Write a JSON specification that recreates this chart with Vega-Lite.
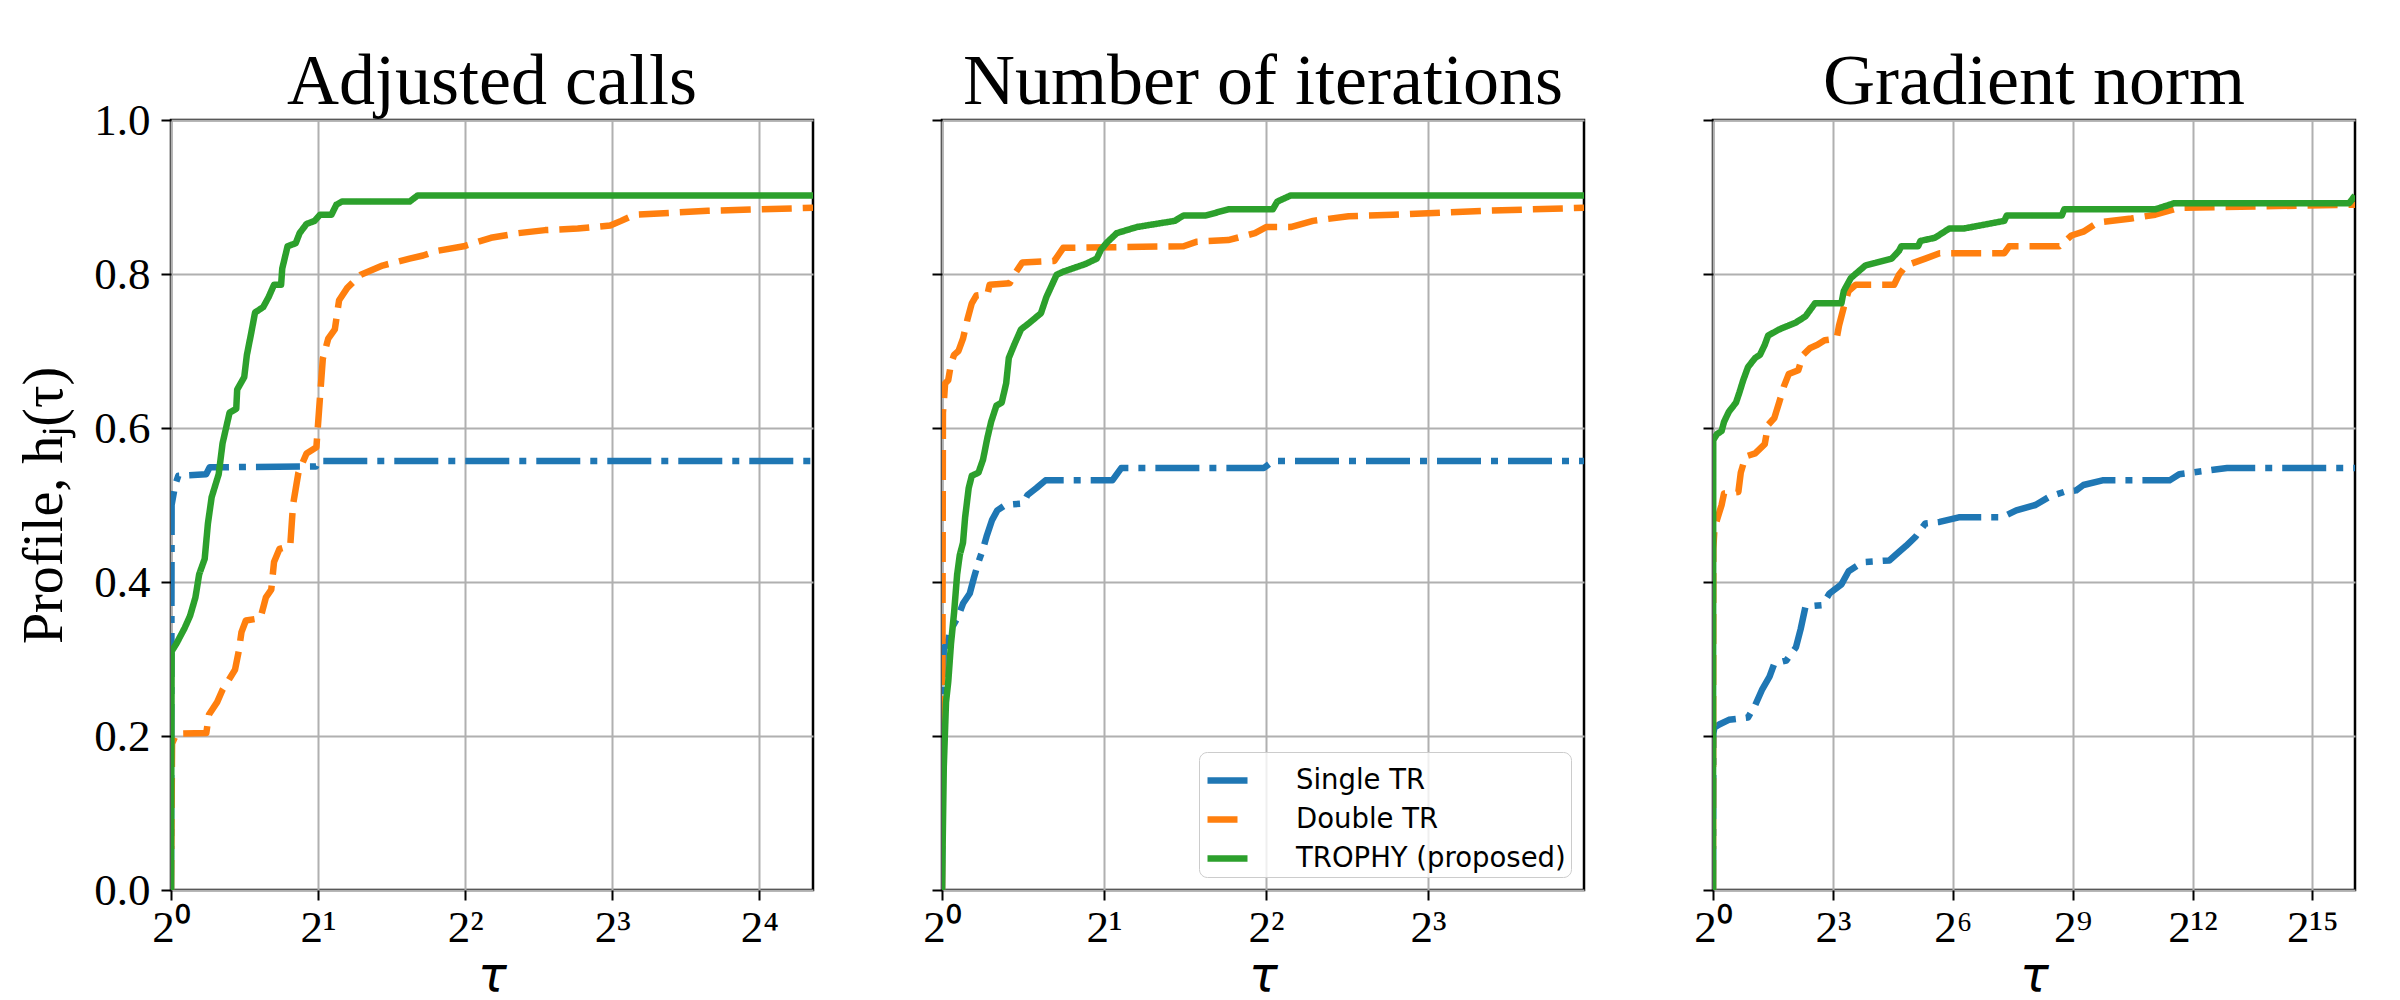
{
  "$schema": "https://vega.github.io/schema/vega-lite/v6.json",
  "background": "white",
  "padding": {"left": 15, "top": 44, "right": 10, "bottom": 0},
  "config": {
    "view": {"stroke": "black", "strokeWidth": 2.5},
    "font": "Liberation Serif",
    "axis": {
      "domain": false,
      "gridColor": "#b0b0b0",
      "gridWidth": 2,
      "gridOpacity": 1,
      "tickColor": "black",
      "tickWidth": 2,
      "tickSize": 10,
      "labelFont": "Liberation Serif",
      "labelFontSize": 45,
      "labelColor": "black",
      "titleColor": "black",
      "titleFontWeight": "normal"
    },
    "title": {"font": "Liberation Serif", "fontSize": 72, "fontWeight": "normal", "color": "black", "baseline": "alphabetic", "offset": -21, "frame": "group", "anchor": "middle"}
  },
  "datasets": {
    "calls": [
      {"solver": "Single TR", "tau": 1, "h": 0},
      {"solver": "Single TR", "tau": 1.003, "h": 0.5},
      {"solver": "Single TR", "tau": 1.02, "h": 0.526},
      {"solver": "Single TR", "tau": 1.035, "h": 0.538},
      {"solver": "Single TR", "tau": 1.18, "h": 0.54},
      {"solver": "Single TR", "tau": 1.2, "h": 0.549},
      {"solver": "Single TR", "tau": 1.98, "h": 0.55},
      {"solver": "Single TR", "tau": 2.0, "h": 0.557},
      {"solver": "Single TR", "tau": 20.6, "h": 0.557},
      {"solver": "Double TR", "tau": 1, "h": 0},
      {"solver": "Double TR", "tau": 1.005, "h": 0.19},
      {"solver": "Double TR", "tau": 1.026, "h": 0.203},
      {"solver": "Double TR", "tau": 1.181, "h": 0.204},
      {"solver": "Double TR", "tau": 1.196, "h": 0.228},
      {"solver": "Double TR", "tau": 1.243, "h": 0.244},
      {"solver": "Double TR", "tau": 1.275, "h": 0.26},
      {"solver": "Double TR", "tau": 1.325, "h": 0.277},
      {"solver": "Double TR", "tau": 1.352, "h": 0.286},
      {"solver": "Double TR", "tau": 1.376, "h": 0.31},
      {"solver": "Double TR", "tau": 1.394, "h": 0.335},
      {"solver": "Double TR", "tau": 1.423, "h": 0.35},
      {"solver": "Double TR", "tau": 1.524, "h": 0.353},
      {"solver": "Double TR", "tau": 1.564, "h": 0.38},
      {"solver": "Double TR", "tau": 1.604, "h": 0.39},
      {"solver": "Double TR", "tau": 1.625, "h": 0.426},
      {"solver": "Double TR", "tau": 1.667, "h": 0.443},
      {"solver": "Double TR", "tau": 1.754, "h": 0.447},
      {"solver": "Double TR", "tau": 1.777, "h": 0.5},
      {"solver": "Double TR", "tau": 1.823, "h": 0.542},
      {"solver": "Double TR", "tau": 1.894, "h": 0.567},
      {"solver": "Double TR", "tau": 1.984, "h": 0.575},
      {"solver": "Double TR", "tau": 2.019, "h": 0.642},
      {"solver": "Double TR", "tau": 2.045, "h": 0.69},
      {"solver": "Double TR", "tau": 2.098, "h": 0.716},
      {"solver": "Double TR", "tau": 2.164, "h": 0.728},
      {"solver": "Double TR", "tau": 2.208, "h": 0.766},
      {"solver": "Double TR", "tau": 2.295, "h": 0.782},
      {"solver": "Double TR", "tau": 2.446, "h": 0.799},
      {"solver": "Double TR", "tau": 2.709, "h": 0.811},
      {"solver": "Double TR", "tau": 3.078, "h": 0.82},
      {"solver": "Double TR", "tau": 3.281, "h": 0.824},
      {"solver": "Double TR", "tau": 3.497, "h": 0.83},
      {"solver": "Double TR", "tau": 3.974, "h": 0.836},
      {"solver": "Double TR", "tau": 4.516, "h": 0.847},
      {"solver": "Double TR", "tau": 5.131, "h": 0.853},
      {"solver": "Double TR", "tau": 5.831, "h": 0.857},
      {"solver": "Double TR", "tau": 6.798, "h": 0.859},
      {"solver": "Double TR", "tau": 7.923, "h": 0.863},
      {"solver": "Double TR", "tau": 8.34, "h": 0.869},
      {"solver": "Double TR", "tau": 8.89, "h": 0.877},
      {"solver": "Double TR", "tau": 12.55, "h": 0.882},
      {"solver": "Double TR", "tau": 20.6, "h": 0.886},
      {"solver": "TROPHY (proposed)", "tau": 1, "h": 0},
      {"solver": "TROPHY (proposed)", "tau": 1.003, "h": 0.31},
      {"solver": "TROPHY (proposed)", "tau": 1.026, "h": 0.32},
      {"solver": "TROPHY (proposed)", "tau": 1.066, "h": 0.34},
      {"solver": "TROPHY (proposed)", "tau": 1.094, "h": 0.356},
      {"solver": "TROPHY (proposed)", "tau": 1.122, "h": 0.38},
      {"solver": "TROPHY (proposed)", "tau": 1.142, "h": 0.41},
      {"solver": "TROPHY (proposed)", "tau": 1.172, "h": 0.43},
      {"solver": "TROPHY (proposed)", "tau": 1.19, "h": 0.476},
      {"solver": "TROPHY (proposed)", "tau": 1.211, "h": 0.51},
      {"solver": "TROPHY (proposed)", "tau": 1.252, "h": 0.54},
      {"solver": "TROPHY (proposed)", "tau": 1.275, "h": 0.58},
      {"solver": "TROPHY (proposed)", "tau": 1.318, "h": 0.62},
      {"solver": "TROPHY (proposed)", "tau": 1.36, "h": 0.625},
      {"solver": "TROPHY (proposed)", "tau": 1.366, "h": 0.65},
      {"solver": "TROPHY (proposed)", "tau": 1.412, "h": 0.666},
      {"solver": "TROPHY (proposed)", "tau": 1.43, "h": 0.695},
      {"solver": "TROPHY (proposed)", "tau": 1.46, "h": 0.724},
      {"solver": "TROPHY (proposed)", "tau": 1.486, "h": 0.75},
      {"solver": "TROPHY (proposed)", "tau": 1.544, "h": 0.757},
      {"solver": "TROPHY (proposed)", "tau": 1.584, "h": 0.77},
      {"solver": "TROPHY (proposed)", "tau": 1.625, "h": 0.786},
      {"solver": "TROPHY (proposed)", "tau": 1.68, "h": 0.786},
      {"solver": "TROPHY (proposed)", "tau": 1.689, "h": 0.807},
      {"solver": "TROPHY (proposed)", "tau": 1.732, "h": 0.836},
      {"solver": "TROPHY (proposed)", "tau": 1.8, "h": 0.84},
      {"solver": "TROPHY (proposed)", "tau": 1.833, "h": 0.853},
      {"solver": "TROPHY (proposed)", "tau": 1.894, "h": 0.865},
      {"solver": "TROPHY (proposed)", "tau": 1.968, "h": 0.869},
      {"solver": "TROPHY (proposed)", "tau": 2.019, "h": 0.877},
      {"solver": "TROPHY (proposed)", "tau": 2.13, "h": 0.877},
      {"solver": "TROPHY (proposed)", "tau": 2.18, "h": 0.89},
      {"solver": "TROPHY (proposed)", "tau": 2.237, "h": 0.894},
      {"solver": "TROPHY (proposed)", "tau": 3.078, "h": 0.894},
      {"solver": "TROPHY (proposed)", "tau": 3.198, "h": 0.902},
      {"solver": "TROPHY (proposed)", "tau": 20.6, "h": 0.902}
    ],
    "iters": [
      {"solver": "Single TR", "tau": 1, "h": 0},
      {"solver": "Single TR", "tau": 1.004, "h": 0.244},
      {"solver": "Single TR", "tau": 1.0077, "h": 0.315},
      {"solver": "Single TR", "tau": 1.023, "h": 0.318},
      {"solver": "Single TR", "tau": 1.033, "h": 0.335},
      {"solver": "Single TR", "tau": 1.073, "h": 0.356},
      {"solver": "Single TR", "tau": 1.094, "h": 0.372},
      {"solver": "Single TR", "tau": 1.126, "h": 0.385},
      {"solver": "Single TR", "tau": 1.147, "h": 0.406},
      {"solver": "Single TR", "tau": 1.169, "h": 0.426},
      {"solver": "Single TR", "tau": 1.192, "h": 0.443},
      {"solver": "Single TR", "tau": 1.21, "h": 0.459},
      {"solver": "Single TR", "tau": 1.238, "h": 0.48},
      {"solver": "Single TR", "tau": 1.267, "h": 0.493},
      {"solver": "Single TR", "tau": 1.311, "h": 0.5},
      {"solver": "Single TR", "tau": 1.415, "h": 0.502},
      {"solver": "Single TR", "tau": 1.442, "h": 0.513},
      {"solver": "Single TR", "tau": 1.498, "h": 0.522},
      {"solver": "Single TR", "tau": 1.557, "h": 0.532},
      {"solver": "Single TR", "tau": 2.073, "h": 0.532},
      {"solver": "Single TR", "tau": 2.153, "h": 0.548},
      {"solver": "Single TR", "tau": 3.965, "h": 0.548},
      {"solver": "Single TR", "tau": 4.119, "h": 0.557},
      {"solver": "Single TR", "tau": 15.6, "h": 0.557},
      {"solver": "Double TR", "tau": 1, "h": 0},
      {"solver": "Double TR", "tau": 1.004, "h": 0.62},
      {"solver": "Double TR", "tau": 1.0077, "h": 0.633},
      {"solver": "Double TR", "tau": 1.0135, "h": 0.658},
      {"solver": "Double TR", "tau": 1.027, "h": 0.662},
      {"solver": "Double TR", "tau": 1.039, "h": 0.683},
      {"solver": "Double TR", "tau": 1.053, "h": 0.695},
      {"solver": "Double TR", "tau": 1.073, "h": 0.7},
      {"solver": "Double TR", "tau": 1.094, "h": 0.716},
      {"solver": "Double TR", "tau": 1.115, "h": 0.741},
      {"solver": "Double TR", "tau": 1.136, "h": 0.762},
      {"solver": "Double TR", "tau": 1.158, "h": 0.772},
      {"solver": "Double TR", "tau": 1.215, "h": 0.774},
      {"solver": "Double TR", "tau": 1.226, "h": 0.786},
      {"solver": "Double TR", "tau": 1.336, "h": 0.788},
      {"solver": "Double TR", "tau": 1.362, "h": 0.799},
      {"solver": "Double TR", "tau": 1.41, "h": 0.815},
      {"solver": "Double TR", "tau": 1.617, "h": 0.817},
      {"solver": "Double TR", "tau": 1.68, "h": 0.834},
      {"solver": "Double TR", "tau": 2.812, "h": 0.836},
      {"solver": "Double TR", "tau": 2.978, "h": 0.842},
      {"solver": "Double TR", "tau": 3.403, "h": 0.844},
      {"solver": "Double TR", "tau": 3.816, "h": 0.853},
      {"solver": "Double TR", "tau": 4.003, "h": 0.861},
      {"solver": "Double TR", "tau": 4.445, "h": 0.861},
      {"solver": "Double TR", "tau": 4.891, "h": 0.869},
      {"solver": "Double TR", "tau": 5.697, "h": 0.875},
      {"solver": "Double TR", "tau": 6.895, "h": 0.877},
      {"solver": "Double TR", "tau": 10.1, "h": 0.882},
      {"solver": "Double TR", "tau": 15.6, "h": 0.886},
      {"solver": "TROPHY (proposed)", "tau": 1, "h": 0},
      {"solver": "TROPHY (proposed)", "tau": 1.0077, "h": 0.16},
      {"solver": "TROPHY (proposed)", "tau": 1.0173, "h": 0.244},
      {"solver": "TROPHY (proposed)", "tau": 1.027, "h": 0.27},
      {"solver": "TROPHY (proposed)", "tau": 1.039, "h": 0.319},
      {"solver": "TROPHY (proposed)", "tau": 1.053, "h": 0.36},
      {"solver": "TROPHY (proposed)", "tau": 1.067, "h": 0.41},
      {"solver": "TROPHY (proposed)", "tau": 1.079, "h": 0.435},
      {"solver": "TROPHY (proposed)", "tau": 1.094, "h": 0.451},
      {"solver": "TROPHY (proposed)", "tau": 1.104, "h": 0.484},
      {"solver": "TROPHY (proposed)", "tau": 1.121, "h": 0.522},
      {"solver": "TROPHY (proposed)", "tau": 1.136, "h": 0.538},
      {"solver": "TROPHY (proposed)", "tau": 1.169, "h": 0.542},
      {"solver": "TROPHY (proposed)", "tau": 1.192, "h": 0.559},
      {"solver": "TROPHY (proposed)", "tau": 1.215, "h": 0.588},
      {"solver": "TROPHY (proposed)", "tau": 1.234, "h": 0.608},
      {"solver": "TROPHY (proposed)", "tau": 1.262, "h": 0.629},
      {"solver": "TROPHY (proposed)", "tau": 1.291, "h": 0.633},
      {"solver": "TROPHY (proposed)", "tau": 1.316, "h": 0.658},
      {"solver": "TROPHY (proposed)", "tau": 1.331, "h": 0.691},
      {"solver": "TROPHY (proposed)", "tau": 1.362, "h": 0.708},
      {"solver": "TROPHY (proposed)", "tau": 1.402, "h": 0.728},
      {"solver": "TROPHY (proposed)", "tau": 1.456, "h": 0.737},
      {"solver": "TROPHY (proposed)", "tau": 1.527, "h": 0.749},
      {"solver": "TROPHY (proposed)", "tau": 1.563, "h": 0.77},
      {"solver": "TROPHY (proposed)", "tau": 1.633, "h": 0.799},
      {"solver": "TROPHY (proposed)", "tau": 1.68, "h": 0.803},
      {"solver": "TROPHY (proposed)", "tau": 1.848, "h": 0.813},
      {"solver": "TROPHY (proposed)", "tau": 1.939, "h": 0.82},
      {"solver": "TROPHY (proposed)", "tau": 1.976, "h": 0.832},
      {"solver": "TROPHY (proposed)", "tau": 2.033, "h": 0.842},
      {"solver": "TROPHY (proposed)", "tau": 2.112, "h": 0.853},
      {"solver": "TROPHY (proposed)", "tau": 2.302, "h": 0.861},
      {"solver": "TROPHY (proposed)", "tau": 2.707, "h": 0.869},
      {"solver": "TROPHY (proposed)", "tau": 2.812, "h": 0.876},
      {"solver": "TROPHY (proposed)", "tau": 3.094, "h": 0.876},
      {"solver": "TROPHY (proposed)", "tau": 3.403, "h": 0.884},
      {"solver": "TROPHY (proposed)", "tau": 4.119, "h": 0.884},
      {"solver": "TROPHY (proposed)", "tau": 4.198, "h": 0.894},
      {"solver": "TROPHY (proposed)", "tau": 4.445, "h": 0.902},
      {"solver": "TROPHY (proposed)", "tau": 15.6, "h": 0.902}
    ],
    "grad": [
      {"solver": "Single TR", "tau": 1, "h": 0},
      {"solver": "Single TR", "tau": 1.005, "h": 0.203},
      {"solver": "Single TR", "tau": 1.025, "h": 0.211},
      {"solver": "Single TR", "tau": 1.114, "h": 0.215},
      {"solver": "Single TR", "tau": 1.316, "h": 0.221},
      {"solver": "Single TR", "tau": 1.834, "h": 0.224},
      {"solver": "Single TR", "tau": 2.078, "h": 0.24},
      {"solver": "Single TR", "tau": 2.354, "h": 0.261},
      {"solver": "Single TR", "tau": 2.666, "h": 0.277},
      {"solver": "Single TR", "tau": 2.897, "h": 0.294},
      {"solver": "Single TR", "tau": 3.567, "h": 0.298},
      {"solver": "Single TR", "tau": 4.211, "h": 0.315},
      {"solver": "Single TR", "tau": 4.576, "h": 0.339},
      {"solver": "Single TR", "tau": 4.973, "h": 0.368},
      {"solver": "Single TR", "tau": 6.653, "h": 0.37},
      {"solver": "Single TR", "tau": 7.537, "h": 0.385},
      {"solver": "Single TR", "tau": 9.276, "h": 0.397},
      {"solver": "Single TR", "tau": 10.51, "h": 0.414},
      {"solver": "Single TR", "tau": 12.41, "h": 0.422},
      {"solver": "Single TR", "tau": 14.05, "h": 0.426},
      {"solver": "Single TR", "tau": 21.29, "h": 0.428},
      {"solver": "Single TR", "tau": 25.15, "h": 0.439},
      {"solver": "Single TR", "tau": 28.49, "h": 0.447},
      {"solver": "Single TR", "tau": 33.64, "h": 0.459},
      {"solver": "Single TR", "tau": 39.73, "h": 0.476},
      {"solver": "Single TR", "tau": 50.97, "h": 0.478},
      {"solver": "Single TR", "tau": 71.07, "h": 0.484},
      {"solver": "Single TR", "tau": 150.1, "h": 0.484},
      {"solver": "Single TR", "tau": 192.7, "h": 0.493},
      {"solver": "Single TR", "tau": 268.7, "h": 0.5},
      {"solver": "Single TR", "tau": 344.7, "h": 0.511},
      {"solver": "Single TR", "tau": 442.4, "h": 0.517},
      {"solver": "Single TR", "tau": 544.6, "h": 0.519},
      {"solver": "Single TR", "tau": 617, "h": 0.526},
      {"solver": "Single TR", "tau": 860, "h": 0.532},
      {"solver": "Single TR", "tau": 2753, "h": 0.532},
      {"solver": "Single TR", "tau": 3251, "h": 0.54},
      {"solver": "Single TR", "tau": 7465, "h": 0.548},
      {"solver": "Single TR", "tau": 68600, "h": 0.548},
      {"solver": "Double TR", "tau": 1, "h": 0},
      {"solver": "Double TR", "tau": 1.005, "h": 0.443},
      {"solver": "Double TR", "tau": 1.025, "h": 0.468},
      {"solver": "Double TR", "tau": 1.069, "h": 0.48},
      {"solver": "Double TR", "tau": 1.161, "h": 0.5},
      {"solver": "Double TR", "tau": 1.211, "h": 0.515},
      {"solver": "Double TR", "tau": 1.553, "h": 0.517},
      {"solver": "Double TR", "tau": 1.619, "h": 0.542},
      {"solver": "Double TR", "tau": 1.76, "h": 0.563},
      {"solver": "Double TR", "tau": 2.078, "h": 0.567},
      {"solver": "Double TR", "tau": 2.454, "h": 0.579},
      {"solver": "Double TR", "tau": 2.601, "h": 0.604},
      {"solver": "Double TR", "tau": 2.897, "h": 0.613},
      {"solver": "Double TR", "tau": 3.149, "h": 0.633},
      {"solver": "Double TR", "tau": 3.421, "h": 0.654},
      {"solver": "Double TR", "tau": 3.718, "h": 0.67},
      {"solver": "Double TR", "tau": 4.39, "h": 0.675},
      {"solver": "Double TR", "tau": 4.771, "h": 0.695},
      {"solver": "Double TR", "tau": 5.405, "h": 0.704},
      {"solver": "Double TR", "tau": 6.121, "h": 0.708},
      {"solver": "Double TR", "tau": 6.935, "h": 0.714},
      {"solver": "Double TR", "tau": 8.538, "h": 0.716},
      {"solver": "Double TR", "tau": 8.898, "h": 0.733},
      {"solver": "Double TR", "tau": 9.67, "h": 0.757},
      {"solver": "Double TR", "tau": 10.51, "h": 0.778},
      {"solver": "Double TR", "tau": 11.9, "h": 0.786},
      {"solver": "Double TR", "tau": 23.14, "h": 0.786},
      {"solver": "Double TR", "tau": 25.15, "h": 0.799},
      {"solver": "Double TR", "tau": 28.49, "h": 0.811},
      {"solver": "Double TR", "tau": 39.73, "h": 0.82},
      {"solver": "Double TR", "tau": 50.97, "h": 0.827},
      {"solver": "Double TR", "tau": 156.5, "h": 0.827},
      {"solver": "Double TR", "tau": 170.1, "h": 0.836},
      {"solver": "Double TR", "tau": 407.1, "h": 0.836},
      {"solver": "Double TR", "tau": 501.2, "h": 0.85},
      {"solver": "Double TR", "tau": 617, "h": 0.855},
      {"solver": "Double TR", "tau": 791.5, "h": 0.867},
      {"solver": "Double TR", "tau": 1416, "h": 0.872},
      {"solver": "Double TR", "tau": 2145, "h": 0.877},
      {"solver": "Double TR", "tau": 3251, "h": 0.886},
      {"solver": "Double TR", "tau": 68600, "h": 0.89},
      {"solver": "TROPHY (proposed)", "tau": 1, "h": 0},
      {"solver": "TROPHY (proposed)", "tau": 1.004, "h": 0.584},
      {"solver": "TROPHY (proposed)", "tau": 1.069, "h": 0.592},
      {"solver": "TROPHY (proposed)", "tau": 1.161, "h": 0.596},
      {"solver": "TROPHY (proposed)", "tau": 1.211, "h": 0.608},
      {"solver": "TROPHY (proposed)", "tau": 1.316, "h": 0.621},
      {"solver": "TROPHY (proposed)", "tau": 1.49, "h": 0.633},
      {"solver": "TROPHY (proposed)", "tau": 1.58, "h": 0.646},
      {"solver": "TROPHY (proposed)", "tau": 1.688, "h": 0.662},
      {"solver": "TROPHY (proposed)", "tau": 1.834, "h": 0.679},
      {"solver": "TROPHY (proposed)", "tau": 2.078, "h": 0.691},
      {"solver": "TROPHY (proposed)", "tau": 2.258, "h": 0.695},
      {"solver": "TROPHY (proposed)", "tau": 2.454, "h": 0.708},
      {"solver": "TROPHY (proposed)", "tau": 2.601, "h": 0.72},
      {"solver": "TROPHY (proposed)", "tau": 3.149, "h": 0.728},
      {"solver": "TROPHY (proposed)", "tau": 4.211, "h": 0.737},
      {"solver": "TROPHY (proposed)", "tau": 4.973, "h": 0.745},
      {"solver": "TROPHY (proposed)", "tau": 5.872, "h": 0.762},
      {"solver": "TROPHY (proposed)", "tau": 9.276, "h": 0.762},
      {"solver": "TROPHY (proposed)", "tau": 9.67, "h": 0.778},
      {"solver": "TROPHY (proposed)", "tau": 10.95, "h": 0.795},
      {"solver": "TROPHY (proposed)", "tau": 12.41, "h": 0.803},
      {"solver": "TROPHY (proposed)", "tau": 14.05, "h": 0.811},
      {"solver": "TROPHY (proposed)", "tau": 22.19, "h": 0.82},
      {"solver": "TROPHY (proposed)", "tau": 25.15, "h": 0.83},
      {"solver": "TROPHY (proposed)", "tau": 26.21, "h": 0.836},
      {"solver": "TROPHY (proposed)", "tau": 35.07, "h": 0.836},
      {"solver": "TROPHY (proposed)", "tau": 36.56, "h": 0.843},
      {"solver": "TROPHY (proposed)", "tau": 46.91, "h": 0.847},
      {"solver": "TROPHY (proposed)", "tau": 60.2, "h": 0.859},
      {"solver": "TROPHY (proposed)", "tau": 77.2, "h": 0.859},
      {"solver": "TROPHY (proposed)", "tau": 156.5, "h": 0.869},
      {"solver": "TROPHY (proposed)", "tau": 163.2, "h": 0.876},
      {"solver": "TROPHY (proposed)", "tau": 424.4, "h": 0.876},
      {"solver": "TROPHY (proposed)", "tau": 442.4, "h": 0.884},
      {"solver": "TROPHY (proposed)", "tau": 2145, "h": 0.884},
      {"solver": "TROPHY (proposed)", "tau": 2992, "h": 0.892},
      {"solver": "TROPHY (proposed)", "tau": 62130, "h": 0.892},
      {"solver": "TROPHY (proposed)", "tau": 68600, "h": 0.902}
    ]
  },
  "spacing": 129,
  "bounds": "flush",
  "resolve": {"legend": {"color": "independent", "strokeDash": "independent"}},
  "hconcat": [
    {
      "width": 642,
      "height": 770,
      "title": "Adjusted calls",
      "data": {"name": "calls"},
      "mark": {"type": "line", "strokeWidth": 6.5, "strokeCap": "butt", "strokeJoin": "round", "clip": true},
      "encoding": {
        "x": {
          "field": "tau", "type": "quantitative",
          "scale": {"type": "log", "base": 2, "domain": [1, 20.6], "nice": false},
          "axis": {
            "values": [1, 2, 4, 8, 16],
            "labelExpr": "'2' + ['⁰','¹','²','³','⁴','⁵','⁶','⁷','⁸','⁹'][round(log(datum.value)/LN2) % 10]",
            "labelFlush": false, "labelPadding": 5,
            "title": "τ", "titleFont": "DejaVu Sans", "titleFontStyle": "italic", "titleFontSize": 48, "titlePadding": 2
          }
        },
        "y": {
          "field": "h", "type": "quantitative",
          "scale": {"domain": [0, 1], "nice": false},
          "axis": {
            "values": [0, 0.2, 0.4, 0.6, 0.8, 1], "format": ".1f", "labelPadding": 11,
            "title": "Profile,   hⱼ(τ)", "titleFont": "Liberation Serif", "titleFontSize": 56, "titlePadding": 20
          }
        },
        "color": {
          "field": "solver", "type": "nominal",
          "scale": {"domain": ["Single TR", "Double TR", "TROPHY (proposed)"], "range": ["#1f77b4", "#ff7f0e", "#2ca02c"]},
          "legend": null
        },
        "strokeDash": {
          "field": "solver", "type": "nominal",
          "scale": {"domain": ["Single TR", "Double TR", "TROPHY (proposed)"], "range": [[44, 10, 7, 10], [30, 11], [1, 0]]},
          "legend": null
        }
      }
    },
    {
      "width": 642,
      "height": 770,
      "title": "Number of iterations",
      "data": {"name": "iters"},
      "mark": {"type": "line", "strokeWidth": 6.5, "strokeCap": "butt", "strokeJoin": "round", "clip": true},
      "encoding": {
        "x": {
          "field": "tau", "type": "quantitative",
          "scale": {"type": "log", "base": 2, "domain": [1, 15.6], "nice": false},
          "axis": {
            "values": [1, 2, 4, 8],
            "labelExpr": "'2' + ['⁰','¹','²','³','⁴','⁵','⁶','⁷','⁸','⁹'][round(log(datum.value)/LN2) % 10]",
            "labelFlush": false, "labelPadding": 5,
            "title": "τ", "titleFont": "DejaVu Sans", "titleFontStyle": "italic", "titleFontSize": 48, "titlePadding": 2
          }
        },
        "y": {
          "field": "h", "type": "quantitative",
          "scale": {"domain": [0, 1], "nice": false},
          "axis": {"values": [0, 0.2, 0.4, 0.6, 0.8, 1], "format": ".1f", "labelPadding": 11, "labelOpacity": 0, "title": null}
        },
        "color": {
          "field": "solver", "type": "nominal",
          "scale": {"domain": ["Single TR", "Double TR", "TROPHY (proposed)"], "range": ["#1f77b4", "#ff7f0e", "#2ca02c"]},
          "legend": {
            "orient": "bottom-right", "offset": 13, "title": null,
            "symbolType": "stroke", "symbolSize": 1600, "symbolStrokeWidth": 6.5,
            "labelFont": "DejaVu Sans", "labelFontSize": 27.5, "labelColor": "black", "labelOffset": 45, "labelLimit": 600,
            "rowPadding": 2, "padding": 5,
            "fillColor": "rgba(255,255,255,0.8)", "strokeColor": "#cccccc", "cornerRadius": 8
          }
        },
        "strokeDash": {
          "field": "solver", "type": "nominal",
          "scale": {"domain": ["Single TR", "Double TR", "TROPHY (proposed)"], "range": [[44, 10, 7, 10], [30, 11], [1, 0]]},
          "legend": {
            "orient": "bottom-right", "offset": 13, "title": null,
            "symbolType": "stroke", "symbolSize": 1600, "symbolStrokeWidth": 6.5,
            "labelFont": "DejaVu Sans", "labelFontSize": 27.5, "labelColor": "black", "labelOffset": 45, "labelLimit": 600,
            "rowPadding": 2, "padding": 5,
            "fillColor": "rgba(255,255,255,0.8)", "strokeColor": "#cccccc", "cornerRadius": 8
          }
        }
      }
    },
    {
      "width": 642,
      "height": 770,
      "title": "Gradient norm",
      "data": {"name": "grad"},
      "mark": {"type": "line", "strokeWidth": 6.5, "strokeCap": "butt", "strokeJoin": "round", "clip": true},
      "encoding": {
        "x": {
          "field": "tau", "type": "quantitative",
          "scale": {"type": "log", "base": 2, "domain": [1, 68600], "nice": false},
          "axis": {
            "values": [1, 8, 64, 512, 4096, 32768],
            "labelExpr": "'2' + (round(log(datum.value)/LN2) >= 10 ? ['⁰','¹','²','³','⁴','⁵','⁶','⁷','⁸','⁹'][floor(round(log(datum.value)/LN2) / 10)] : '') + ['⁰','¹','²','³','⁴','⁵','⁶','⁷','⁸','⁹'][round(log(datum.value)/LN2) % 10]",
            "labelFlush": false, "labelPadding": 5,
            "title": "τ", "titleFont": "DejaVu Sans", "titleFontStyle": "italic", "titleFontSize": 48, "titlePadding": 2
          }
        },
        "y": {
          "field": "h", "type": "quantitative",
          "scale": {"domain": [0, 1], "nice": false},
          "axis": {"values": [0, 0.2, 0.4, 0.6, 0.8, 1], "format": ".1f", "labelPadding": 11, "labelOpacity": 0, "title": null}
        },
        "color": {
          "field": "solver", "type": "nominal",
          "scale": {"domain": ["Single TR", "Double TR", "TROPHY (proposed)"], "range": ["#1f77b4", "#ff7f0e", "#2ca02c"]},
          "legend": null
        },
        "strokeDash": {
          "field": "solver", "type": "nominal",
          "scale": {"domain": ["Single TR", "Double TR", "TROPHY (proposed)"], "range": [[44, 10, 7, 10], [30, 11], [1, 0]]},
          "legend": null
        }
      }
    }
  ]
}
